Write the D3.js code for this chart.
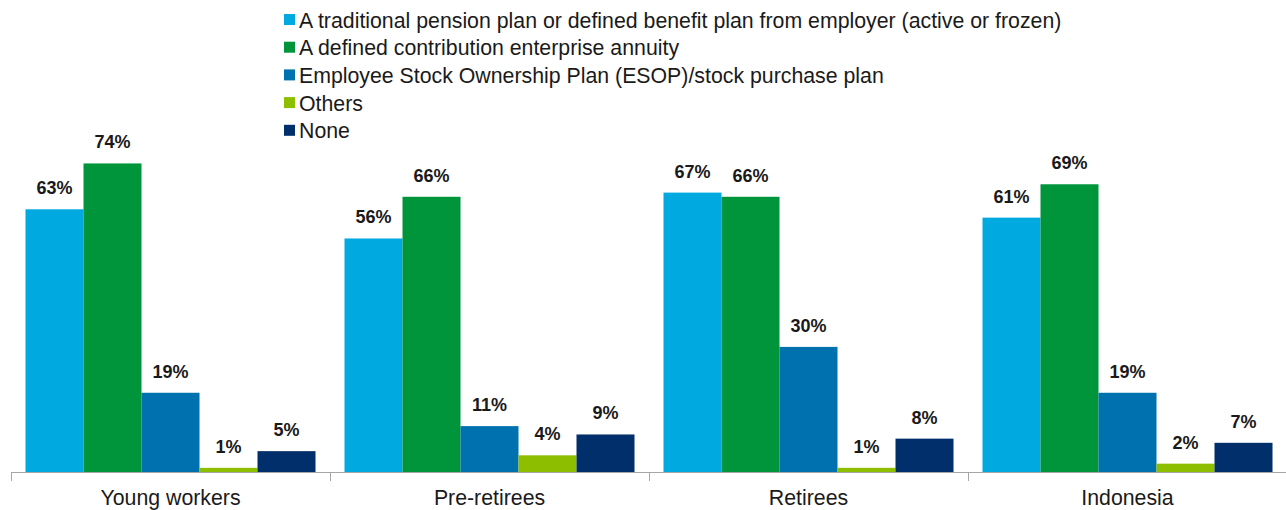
<!DOCTYPE html>
<html>
<head>
<meta charset="utf-8">
<script src="https://cdn.jsdelivr.net/npm/d3@7"></script>
<style>
  html, body { margin: 0; padding: 0; background: #fff; }
  svg { display: block; font-family: "Liberation Sans", Arial, sans-serif; }
</style>
</head>
<body>
<svg id="chart" width="1286" height="510"></svg>
<script>
// Groups along the x axis
const categories = ["Young workers", "Pre-retirees", "Retirees", "Indonesia"];

// Series names shown in the legend
const seriesNames = [
  "A traditional pension plan or defined benefit plan from employer (active or frozen)",
  "A defined contribution enterprise annuity",
  "Employee Stock Ownership Plan (ESOP)/stock purchase plan",
  "Others",
  "None"
];

// Share of respondents (%) per series, one value per category
const traditionalPension = [63, 56, 67, 61];
const definedContribution = [74, 66, 66, 69];
const esop = [19, 11, 30, 19];
const others = [1, 4, 1, 2];
const none = [5, 9, 8, 7];

const seriesValues = [traditionalPension, definedContribution, esop, others, none];
const seriesColors = ["#00a9e0", "#00953a", "#0071af", "#8dbe00", "#002f6c"];

const svg = d3.select("#chart");

const baseY = 472;
const x0 = d3.scaleBand().domain(categories).range([11, 1287]).paddingInner(0).paddingOuter(0);
const x1 = d3.scaleBand().domain(d3.range(seriesNames.length)).range([0, x0.bandwidth()]).paddingOuter(0.25).paddingInner(0);
const y = d3.scaleLinear().domain([0, 100]).range([baseY, 55]);

// Bars and value labels
const groups = svg.append("g").selectAll("g")
  .data(categories)
  .join("g")
  .attr("transform", d => `translate(${x0(d)},0)`);

groups.selectAll("rect")
  .data((c, ci) => seriesValues.map((vals, si) => ({ si, v: vals[ci] })))
  .join("rect")
  .attr("x", d => x1(d.si))
  .attr("width", x1.bandwidth())
  .attr("y", d => y(d.v))
  .attr("height", d => baseY - y(d.v))
  .attr("fill", d => seriesColors[d.si]);

groups.selectAll("text")
  .data((c, ci) => seriesValues.map((vals, si) => ({ si, v: vals[ci] })))
  .join("text")
  .attr("x", d => x1(d.si) + x1.bandwidth() / 2)
  .attr("y", d => y(d.v) - 15)
  .attr("text-anchor", "middle")
  .attr("font-size", 18)
  .attr("font-weight", "bold")
  .attr("fill", "#1a1a1a")
  .text(d => d.v + "%");

// Category axis with ticks between groups
const axis = svg.append("g").attr("transform", `translate(0,${baseY})`);
axis.append("line")
  .attr("x1", 11).attr("x2", 1286)
  .attr("y1", 0.5).attr("y2", 0.5)
  .attr("stroke", "#a6a6a6").attr("stroke-width", 1);
axis.selectAll("line.tick")
  .data(categories)
  .join("line")
  .attr("class", "tick")
  .attr("x1", d => Math.round(x0(d)) + 0.5)
  .attr("x2", d => Math.round(x0(d)) + 0.5)
  .attr("y1", 0).attr("y2", 9)
  .attr("stroke", "#a6a6a6");
axis.selectAll("text")
  .data(categories)
  .join("text")
  .attr("x", d => x0(d) + x0.bandwidth() / 2)
  .attr("y", 33)
  .attr("text-anchor", "middle")
  .attr("font-size", 21.3)
  .attr("fill", "#1a1a1a")
  .text(d => d);

// Legend
const legend = svg.append("g").attr("transform", "translate(284,0)");
const rows = legend.selectAll("g")
  .data(seriesNames)
  .join("g")
  .attr("transform", (d, i) => `translate(0,${19.5 + i * 27.7})`);
rows.append("rect")
  .attr("x", 0).attr("y", -5.5)
  .attr("width", 11).attr("height", 11)
  .attr("fill", (d, i) => seriesColors[i]);
rows.append("text")
  .attr("x", 15).attr("y", 8)
  .attr("font-size", 21.3)
  .attr("fill", "#1a1a1a")
  .text(d => d);
</script>
</body>
</html>
